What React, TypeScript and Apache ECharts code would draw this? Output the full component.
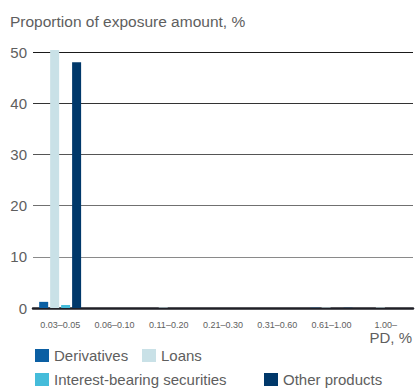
import React, { useEffect, useRef } from "react";
import * as echarts from "echarts";

const categories = ["0.03–0.05", "0.06–0.10", "0.11–0.20", "0.21–0.30", "0.31–0.60", "0.61–1.00", "1.00–"];
const derivatives = [1.2, 0, 0, 0, 0, 0.05, 0];
const loans = [50.4, 0, 0.1, 0, 0, 0.1, 0.1];
const interestBearing = [0.6, 0, 0, 0, 0, 0, 0];
const otherProducts = [48.0, 0, 0, 0, 0, 0.05, 0];
const seriesNames = ["Derivatives", "Loans", "Interest-bearing securities", "Other products"];
const seriesColors = ["#0b5fa3", "#c9e1e7", "#45bcda", "#00386a"];
const yTicks = { min: 0, max: 50, interval: 10 };

const FONT = "'Liberation Sans', Arial, Helvetica, sans-serif";
const TEXT = "#5e5e5e";

export default function App() {
  const ref = useRef<HTMLDivElement>(null);
  useEffect(() => {
    if (!ref.current) return;
    const chart = echarts.init(ref.current, null, { renderer: "svg" });
    const values = [derivatives, loans, interestBearing, otherProducts];
    const legendPos = [
      { left: 35, top: 348 },
      { left: 142, top: 348 },
      { left: 35, top: 372 },
      { left: 264, top: 372 },
    ];
    chart.setOption({
      animation: false,
      textStyle: { fontFamily: FONT },
      grid: { left: 33, right: 2, top: 52, bottom: 82 },
      legend: seriesNames.map((n, i) => ({
        data: [n],
        left: legendPos[i].left,
        top: legendPos[i].top,
        padding: 0,
        itemWidth: 14,
        itemHeight: 13,
        itemGap: 0,
        icon: "rect",
        selectedMode: false,
        textStyle: { fontFamily: FONT, fontSize: 15, color: TEXT, padding: [1, 0, 0, 0] },
      })),
      graphic: [
        {
          type: "text",
          left: 10,
          top: 13,
          style: { text: "Proportion of exposure amount, %", font: `15.5px ${FONT}`, fill: TEXT },
        },
        {
          type: "text",
          right: 3,
          top: 330,
          style: { text: "PD, %", font: `15px ${FONT}`, fill: TEXT },
        },
      ],
      xAxis: {
        type: "category",
        data: categories,
        axisLine: { show: true, lineStyle: { color: "#1f1f26", width: 2.5 } },
        axisTick: { show: false },
        axisLabel: { fontSize: 9, color: TEXT, margin: 12, interval: 0, fontFamily: FONT },
        splitLine: { show: false },
      },
      yAxis: {
        type: "value",
        min: yTicks.min,
        max: yTicks.max,
        interval: yTicks.interval,
        axisLine: { show: false },
        axisTick: { show: false },
        axisLabel: { fontSize: 15, color: TEXT, margin: 6, fontFamily: FONT },
        splitLine: {
          show: true,
          lineStyle: { color: ["#222", "#8a8a8a", "#707070", "#555", "#333", "#1a1a1a"], width: 1 },
        },
      },
      series: seriesNames.map((n, i) => ({
        name: n,
        type: "bar",
        data: values[i],
        barWidth: 9,
        barGap: "22%",
        clip: false,
        itemStyle: { color: seriesColors[i] },
        z: 1,
      })),
    });
    return () => chart.dispose();
  }, []);
  return <div ref={ref} style={{ width: 415, height: 390, position: "absolute", left: 0, top: 0 }} />;
}
